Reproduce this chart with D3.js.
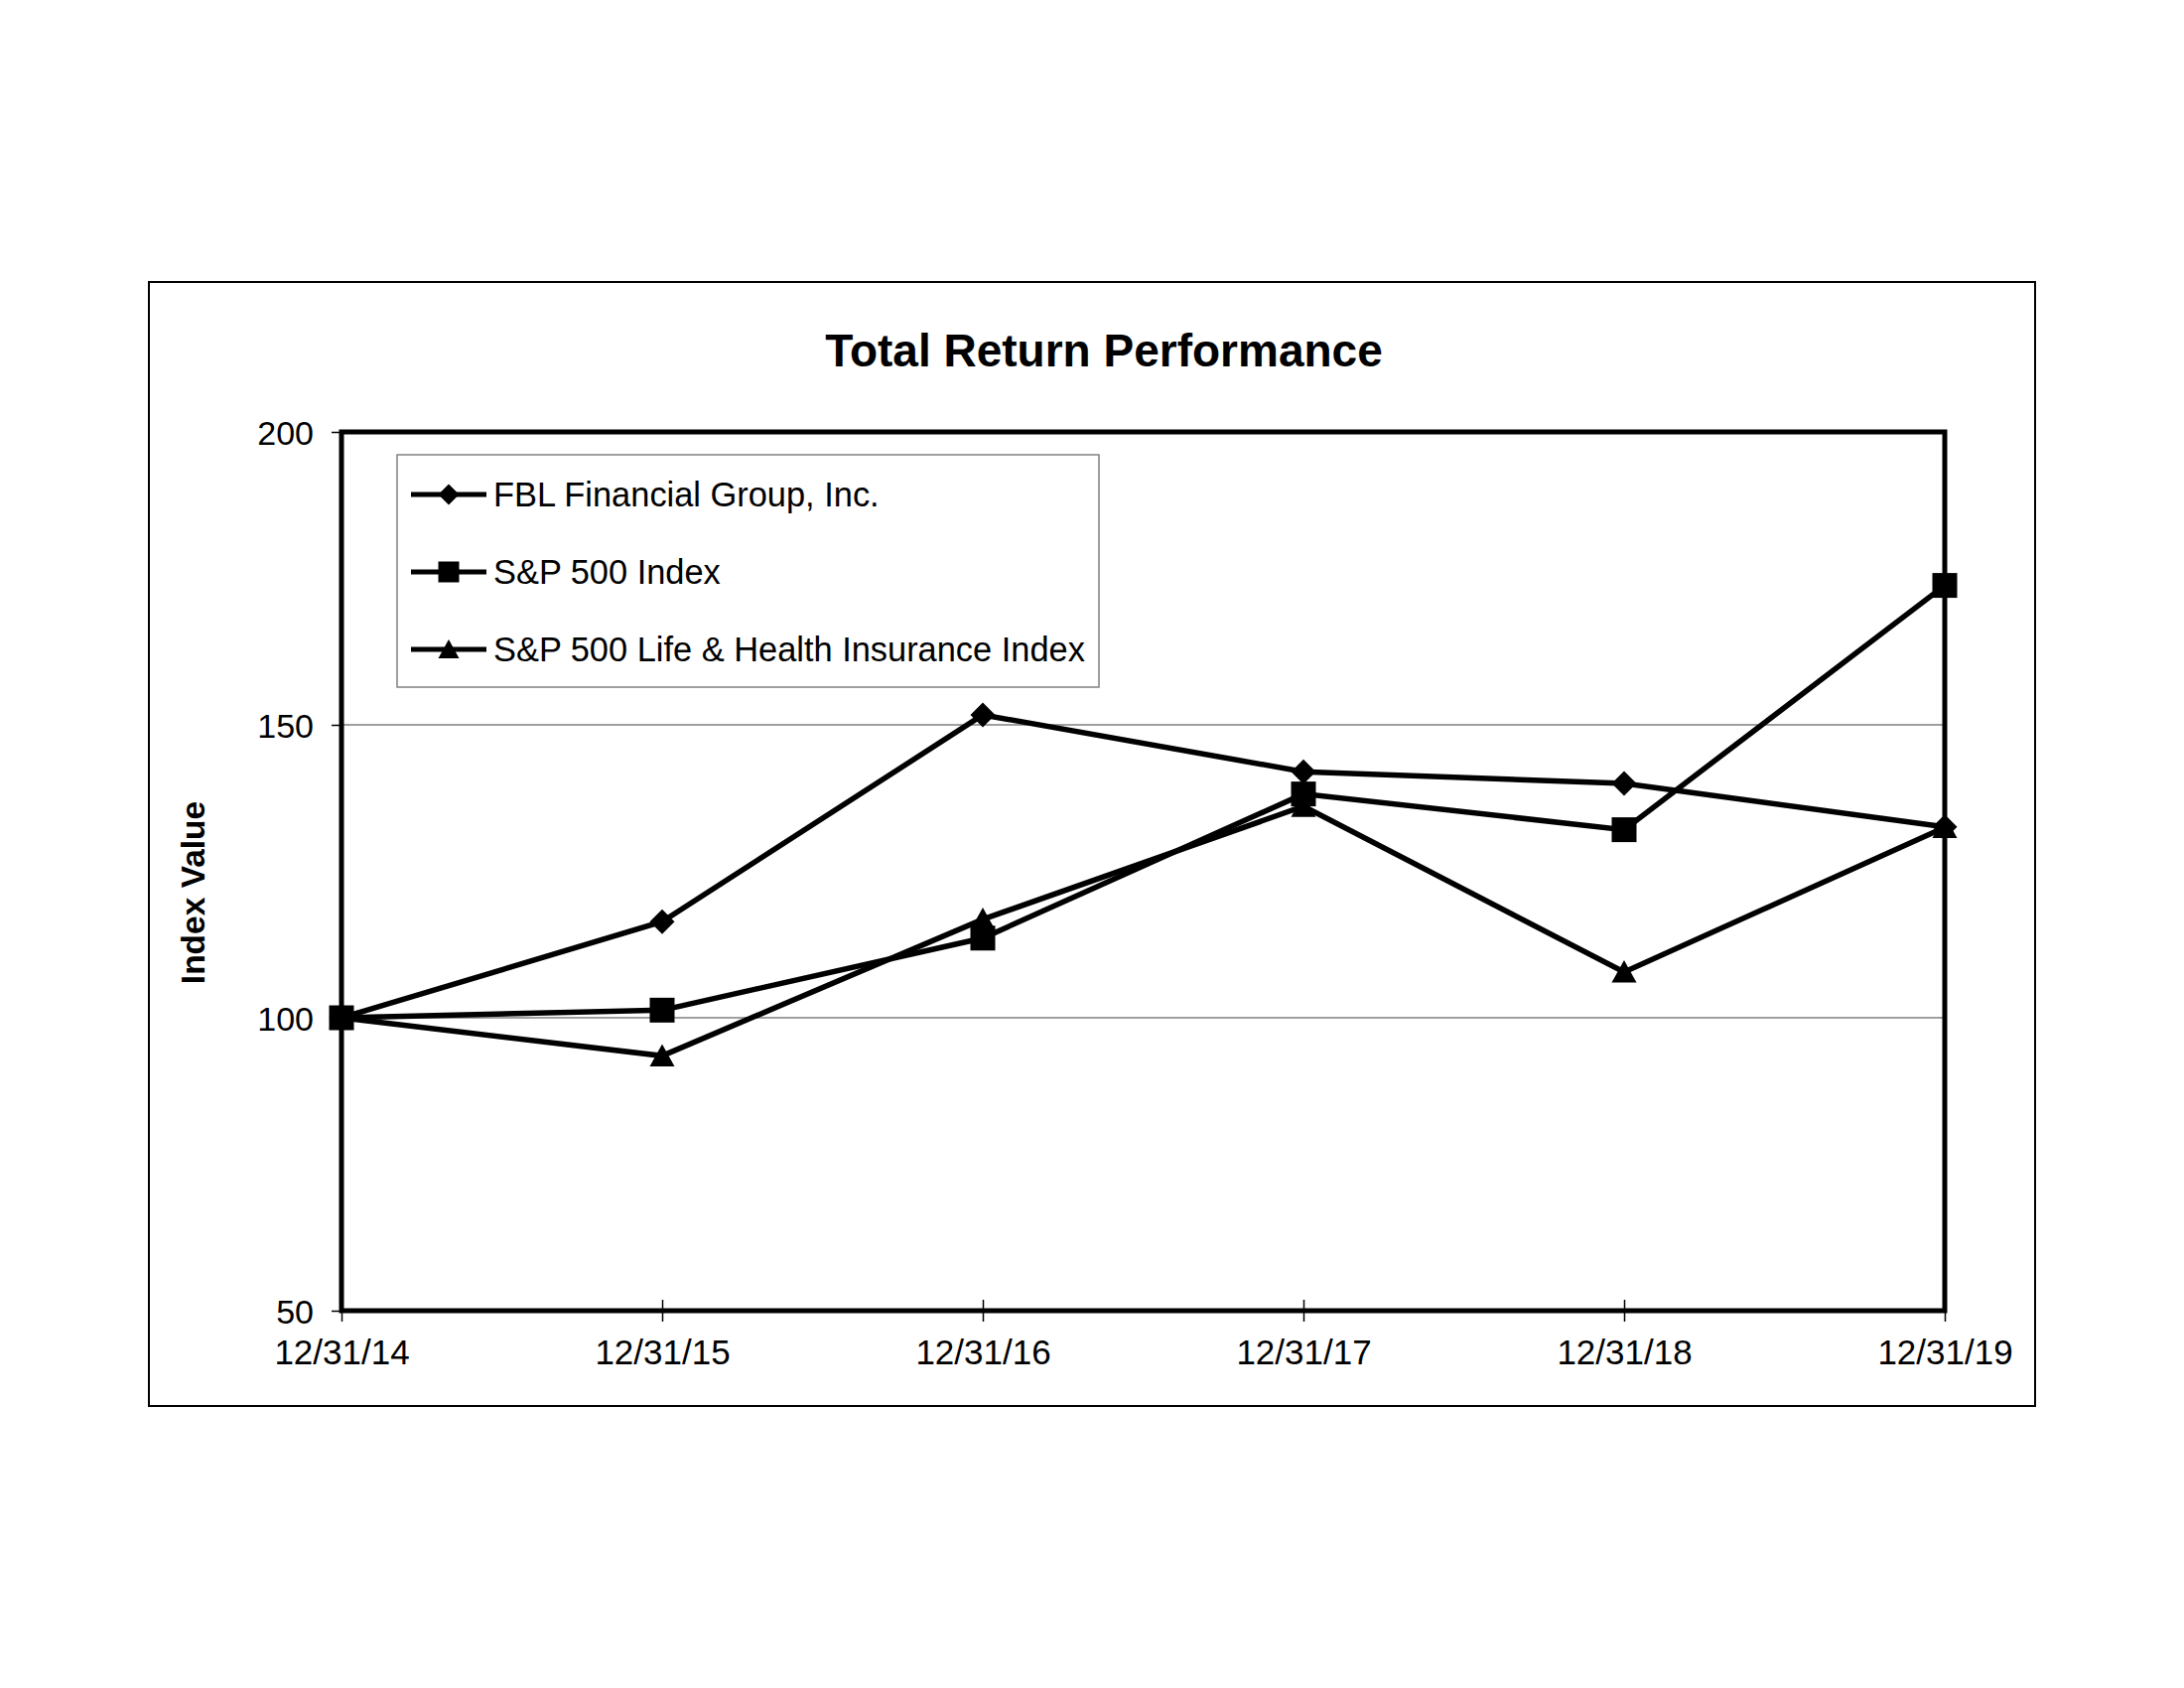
<!DOCTYPE html>
<html><head><meta charset="utf-8">
<script src="https://cdn.jsdelivr.net/npm/d3@7"></script>
<style>
body{margin:0;background:#fff;}
text{font-family:"Liberation Sans",Arial,sans-serif;fill:#000;}
</style>
</head><body>
<svg id="chart" width="2200" height="1700"></svg>
<script>
// ---- data ----
const dates = ["12/31/14","12/31/15","12/31/16","12/31/17","12/31/18","12/31/19"];
const fblValues = [100, 116.4, 151.7, 142.0, 140.0, 132.6];
const sp500Values = [100, 101.3, 113.6, 138.2, 132.1, 173.8];
const lifeHealthValues = [100, 93.5, 116.8, 136.1, 107.8, 132.5];
const seriesNames = ["FBL Financial Group, Inc.", "S&P 500 Index", "S&P 500 Life & Health Insurance Index"];
const markerTypes = ["diamond", "square", "triangle"];
const yTicks = [50, 100, 150, 200];
const chartTitle = "Total Return Performance";
const yTitle = "Index Value";

// ---- layout ----
const svg = d3.select("#chart");
const plot = {left: 344, right: 1959, top: 435, bottom: 1320};

svg.append("rect").attr("x", 0).attr("y", 0).attr("width", 2200).attr("height", 1700).attr("fill", "#fff");
// outer frame
svg.append("rect").attr("x", 150).attr("y", 284).attr("width", 1900).attr("height", 1132)
  .attr("fill", "none").attr("stroke", "#000").attr("stroke-width", 2);

const x = d3.scalePoint().domain(dates).range([plot.left, plot.right]);
const y = d3.scaleLinear().domain([50, 200]).range([plot.bottom, plot.top]);

// gridlines
svg.append("g").selectAll("line").data(yTicks.filter(d => d > 50 && d < 200)).join("line")
  .attr("x1", plot.left).attr("x2", plot.right)
  .attr("y1", d => y(d)).attr("y2", d => y(d))
  .attr("stroke", "#808080").attr("stroke-width", 1.5);

// y axis
const yAxis = svg.append("g").attr("transform", `translate(${plot.left},0)`)
  .call(d3.axisLeft(y).tickValues(yTicks).tickSize(10).tickPadding(18).tickFormat(d3.format("d")));
yAxis.select(".domain").remove();
yAxis.selectAll(".tick line").attr("stroke", "#000").attr("stroke-width", 1.5);
yAxis.selectAll(".tick text").attr("font-size", 34).attr("font-family", "Liberation Sans, Arial, sans-serif").attr("dy", "0.36em");

// x axis
const xAxis = svg.append("g").attr("transform", `translate(0,${plot.bottom})`)
  .call(d3.axisBottom(x).tickSize(11).tickPadding(0));
xAxis.select(".domain").remove();
xAxis.selectAll(".tick line").attr("y1", -11).attr("y2", 11).attr("stroke", "#000").attr("stroke-width", 1.5);
xAxis.selectAll(".tick text").attr("font-size", 35).attr("font-family", "Liberation Sans, Arial, sans-serif")
  .attr("y", 54).attr("dy", 0);

// plot frame
svg.append("rect").attr("x", plot.left).attr("y", plot.top)
  .attr("width", plot.right - plot.left).attr("height", plot.bottom - plot.top)
  .attr("fill", "none").attr("stroke", "#000").attr("stroke-width", 5);

// titles
svg.append("text").attr("x", 1112).attr("y", 369).attr("text-anchor", "middle")
  .attr("font-size", 46).attr("font-weight", "bold").text(chartTitle);
svg.append("text").attr("transform", "translate(206,899) rotate(-90)").attr("text-anchor", "middle")
  .attr("font-size", 33.5).attr("font-weight", "bold").text(yTitle);

// marker shapes
function markerPath(type, s) {
  const h = s / 2;
  if (type === "diamond") return `M0,${-h}L${h},0L0,${h}L${-h},0Z`;
  if (type === "square") return `M${-h},${-h}H${h}V${h}H${-h}Z`;
  return `M0,${-h * 0.95}L${h},${h * 0.85}L${-h},${h * 0.85}Z`;
}

const allSeries = [fblValues, sp500Values, lifeHealthValues];
const line = d3.line().x((d, i) => x(dates[i])).y(d => y(d));

allSeries.forEach((vals, si) => {
  const g = svg.append("g");
  g.append("path").attr("d", line(vals)).attr("fill", "none").attr("stroke", "#000")
    .attr("stroke-width", 5.5).attr("stroke-linejoin", "miter");
  g.selectAll("path.m").data(vals).join("path").attr("class", "m")
    .attr("transform", (d, i) => `translate(${x(dates[i])},${y(d)})`)
    .attr("d", markerPath(markerTypes[si], 25)).attr("fill", "#000");
});

// legend
const legend = svg.append("g");
legend.append("rect").attr("x", 400).attr("y", 458).attr("width", 707).attr("height", 234)
  .attr("fill", "#fff").attr("stroke", "#808080").attr("stroke-width", 1.5);
const legendRowY = [498, 576, 654];
seriesNames.forEach((name, i) => {
  const ry = legendRowY[i];
  legend.append("line").attr("x1", 414).attr("x2", 490).attr("y1", ry).attr("y2", ry)
    .attr("stroke", "#000").attr("stroke-width", 5);
  legend.append("path").attr("transform", `translate(452,${ry})`).attr("d", markerPath(markerTypes[i], 21)).attr("fill", "#000");
  legend.append("text").attr("x", 497).attr("y", ry + 12).attr("font-size", 34.4).text(name);
});
</script>
</body></html>
